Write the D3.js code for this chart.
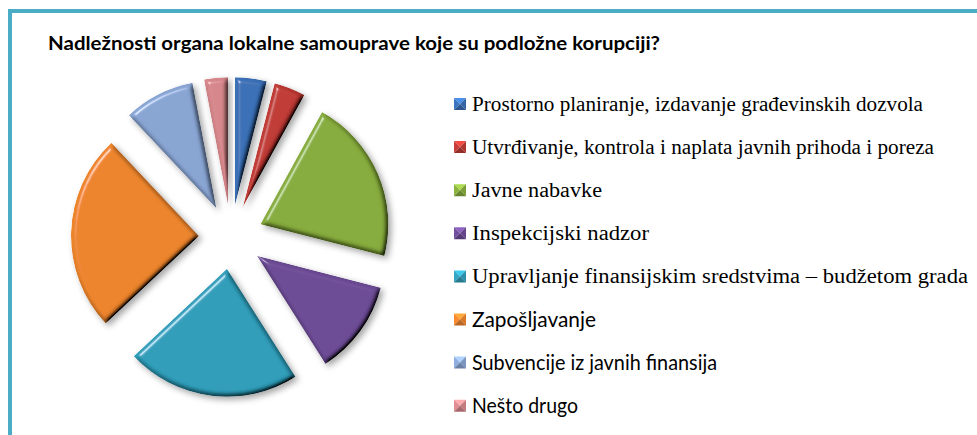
<!DOCTYPE html>
<html>
  <head>
    <meta charset="utf-8">
    <title>Nadležnosti organa lokalne samouprave</title>
    <script type="text/javascript" src="https://cdn.jsdelivr.net/npm/d3@7"></script>
    <style>
      body { margin: 0; background: #fff; }
      svg { display: block; }
    </style>
  </head>
  <body>
    <script>

// chart data (percent of answers)
var categories = [
  "Prostorno planiranje, izdavanje građevinskih dozvola",
  "Utvrđivanje, kontrola i naplata javnih prihoda i poreza",
  "Javne nabavke",
  "Inspekcijski nadzor",
  "Upravljanje finansijskim sredstvima – budžetom grada",
  "Zapošljavanje",
  "Subvencije iz javnih finansija",
  "Nešto drugo"
];
var values = [4, 4, 21, 12, 22, 25, 9, 3];
var title = "Nadležnosti organa lokalne samouprave koje su podložne korupciji?";

// styling
var colors = ["#3a70b6", "#bf3a35", "#86ab3c", "#6d4c96", "#2f9db9", "#ec842c", "#88a4d2", "#d5868a"];
var legendFonts = ["Liberation Serif", "Liberation Serif", "Liberation Serif", "Liberation Serif",
                   "Liberation Serif", "Lato", "Lato", "Lato"];
var legendWidths = [451, 462, 130, 177, 496, 124, 245, 106];

var w = 977;
var h = 435;
var cx = 231, cy = 237;
var radius = 128;
var explode = 32;

var svg = d3.select("body")
  .append("svg")
  .attr("width", w)
  .attr("height", h);

// bevel + shadow filter, to look like the office 3D pie
var defs = svg.append("defs");
var f = defs.append("filter")
  .attr("id", "bevel")
  .attr("x", "-20%").attr("y", "-20%")
  .attr("width", "140%").attr("height", "140%");
f.append("feGaussianBlur").attr("in", "SourceAlpha").attr("stdDeviation", 2.5).attr("result", "blur");
f.append("feDiffuseLighting")
  .attr("in", "blur").attr("surfaceScale", 5).attr("diffuseConstant", 1.22)
  .attr("lighting-color", "#fff").attr("result", "diff")
  .append("feDistantLight").attr("azimuth", 225).attr("elevation", 55);
f.append("feComposite").attr("in", "diff").attr("in2", "SourceGraphic")
  .attr("operator", "arithmetic").attr("k1", 1).attr("result", "shaded");
f.append("feSpecularLighting")
  .attr("in", "blur").attr("surfaceScale", 5).attr("specularConstant", 0.5)
  .attr("specularExponent", 40).attr("lighting-color", "#fff").attr("result", "spec")
  .append("feDistantLight").attr("azimuth", 225).attr("elevation", 35);
f.append("feComposite").attr("in", "spec").attr("in2", "SourceAlpha")
  .attr("operator", "in").attr("result", "specIn");
f.append("feComposite").attr("in", "shaded").attr("in2", "specIn")
  .attr("operator", "arithmetic").attr("k2", 1).attr("k3", 1).attr("result", "lit");
f.append("feComposite").attr("in", "lit").attr("in2", "SourceAlpha")
  .attr("operator", "in").attr("result", "litIn");
f.append("feGaussianBlur").attr("in", "SourceAlpha").attr("stdDeviation", 3).attr("result", "sblur");
f.append("feOffset").attr("in", "sblur").attr("dx", 3).attr("dy", 3).attr("result", "soff");
f.append("feFlood").attr("flood-color", "#000").attr("flood-opacity", 0.35).attr("result", "scol");
f.append("feComposite").attr("in", "scol").attr("in2", "soff").attr("operator", "in").attr("result", "shadow");
var merge = f.append("feMerge");
merge.append("feMergeNode").attr("in", "shadow");
merge.append("feMergeNode").attr("in", "litIn");

// frame
svg.append("rect")
  .attr("x", 10)
  .attr("y", 11)
  .attr("width", w + 40)
  .attr("height", h + 40)
  .attr("fill", "none")
  .attr("stroke", "#4bacc6")
  .attr("stroke-width", 4);

// title
svg.append("text")
  .attr("x", 48)
  .attr("y", 50)
  .attr("font-family", "Lato, 'Open Sans', sans-serif")
  .attr("font-weight", "bold")
  .attr("font-size", "18.6px")
  .attr("textLength", 612)
  .attr("lengthAdjust", "spacingAndGlyphs")
  .attr("fill", "#000")
  .text(title);

// exploded pie
var pie = d3.pie().sort(null).value(function(d){ return d; });
var arc = d3.arc().innerRadius(0).outerRadius(radius);
var arcs = pie(values);

svg.append("g")
  .attr("transform", "translate(" + cx + "," + cy + ")")
  .selectAll("path")
  .data(arcs)
  .enter()
  .append("path")
  .attr("d", arc)
  .attr("transform", function(d){
    var a = (d.startAngle + d.endAngle) / 2;
    return "translate(" + (Math.sin(a) * explode) + "," + (-Math.cos(a) * explode) + ")";
  })
  .attr("fill", function(d, i){ return colors[i]; })
  .attr("filter", "url(#bevel)");

// legend
var legend = svg.append("g")
  .selectAll("g")
  .data(categories)
  .enter()
  .append("g")
  .attr("transform", function(d, i){
    return "translate(454," + (111 + i * 43.1) + ")";
  });

// little pyramid markers
var s = 12;
var faces = [
  { pts: [[0, 0], [s, 0], [s / 2, s / 2]], k: 0.7 },
  { pts: [[0, 0], [0, s], [s / 2, s / 2]], k: 0.15 },
  { pts: [[s, 0], [s, s], [s / 2, s / 2]], k: -0.25 },
  { pts: [[0, s], [s, s], [s / 2, s / 2]], k: -0.7 }
];
legend.each(function(d, i){
  var g = d3.select(this);
  faces.forEach(function(fc){
    var c = d3.color(colors[i]);
    c = fc.k > 0 ? c.brighter(fc.k) : c.darker(-fc.k);
    g.append("path")
      .attr("d", "M" + fc.pts.map(function(p){ return (p[0]) + "," + (p[1] - 13); }).join("L") + "Z")
      .attr("fill", c);
  });
});

legend.append("text")
  .attr("x", 18)
  .attr("y", 0)
  .attr("font-family", function(d, i){ return legendFonts[i]; })
  .attr("font-size", "21.3px")
  .attr("textLength", function(d, i){ return legendWidths[i]; })
  .attr("lengthAdjust", "spacingAndGlyphs")
  .attr("fill", "#000")
  .text(function(d){ return d; });

    </script>
  </body>
</html>
